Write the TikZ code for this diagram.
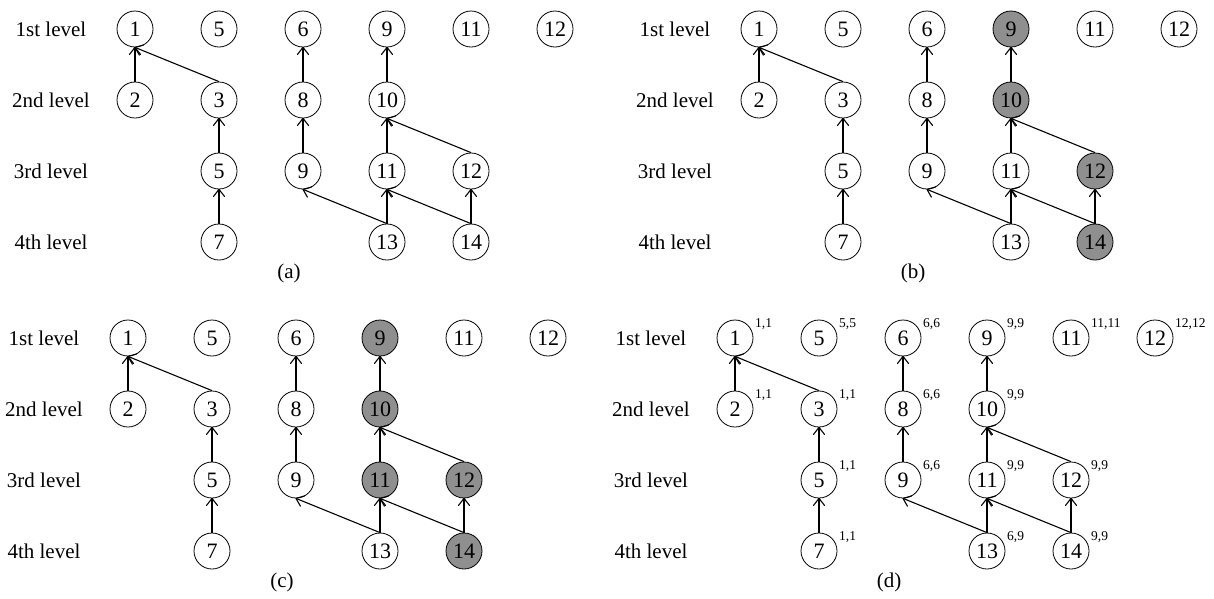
\documentclass[tikz,border=0pt]{standalone}
\usepackage{fontspec}
\setmainfont{Liberation Serif}
\usetikzlibrary{calc}
\definecolor{shade}{gray}{0.56}
\tikzset{
  vx/.style={circle, draw, line width=0.8pt, minimum size=36pt, inner sep=0pt, font=\fontsize{22}{24}\selectfont},
  lvl/.style={font=\fontsize{21}{24}\selectfont},
  captext/.style={font=\fontsize{21}{24}\selectfont},
  ann/.style={anchor=west, inner sep=0pt, font=\fontsize{13.5}{15}\selectfont},
  conn/.style={line width=1.1pt},
  tipline/.style={line width=1.1pt, line join=round, line cap=round},
  f9/.style={}, f10/.style={}, f11b/.style={}, f12b/.style={}, f14/.style={},
}
\newcommand\mkpanel[3]{%
\begin{scope}[shift={(#2)}]
\node[lvl] (#1-l1) at (-84,0) {1st level};
\node[lvl] (#1-l2) at (-84,-71) {2nd level};
\node[lvl] (#1-l3) at (-84,-142) {3rd level};
\node[lvl] (#1-l4) at (-84,-213) {4th level};
\node[vx] (#1-1) at (0,0) {1};
\node[vx] (#1-5) at (84,0) {5};
\node[vx] (#1-6) at (168,0) {6};
\node[vx,f9] (#1-9) at (252,0) {9};
\node[vx] (#1-11) at (336,0) {11};
\node[vx] (#1-12) at (420,0) {12};
\node[vx] (#1-2) at (0,-71) {2};
\node[vx] (#1-3) at (84,-71) {3};
\node[vx] (#1-8) at (168,-71) {8};
\node[vx,f10] (#1-10) at (252,-71) {10};
\node[vx] (#1-5b) at (84,-142) {5};
\node[vx] (#1-9b) at (168,-142) {9};
\node[vx,f11b] (#1-11b) at (252,-142) {11};
\node[vx,f12b] (#1-12b) at (336,-142) {12};
\node[vx] (#1-7) at (84,-213) {7};
\node[vx] (#1-13) at (252,-213) {13};
\node[vx,f14] (#1-14) at (336,-213) {14};
\foreach \s/\t in {2/1,3/1,5b/3,7/5b,8/6,9b/8,10/9,11b/10,12b/10,13/11b,13/9b,14/11b,14/12b}{
  \draw[conn] (#1-\s.north) -- (#1-\t.south);
  \draw[tipline] ($(#1-\t.south)!7pt!(#1-\s.north)!5.5pt!90:(#1-\t.south)$) -- (#1-\t.south) -- ($(#1-\t.south)!7pt!(#1-\s.north)!5.5pt!-90:(#1-\t.south)$);
}
\node[captext] (#1-cap) at (154,-244) {(#3)};
\end{scope}}
\begin{document}
\begin{tikzpicture}[x=1pt,y=1pt]
\useasboundingbox (0,0) rectangle (1214,-598);
\mkpanel{a}{135,-29}{a}
\begin{scope}[f9/.style={fill=shade}, f10/.style={fill=shade}, f12b/.style={fill=shade}, f14/.style={fill=shade}]
\mkpanel{b}{759,-29}{b}
\end{scope}
\begin{scope}[f9/.style={fill=shade}, f10/.style={fill=shade}, f11b/.style={fill=shade}, f12b/.style={fill=shade}, f14/.style={fill=shade}]
\mkpanel{c}{128,-338}{c}
\end{scope}
\mkpanel{d}{735,-338}{d}
\foreach \n/\t in {1/{1,1},5/{5,5},6/{6,6},9/{9,9},11/{11,11},12/{12,12},2/{1,1},3/{1,1},8/{6,6},10/{9,9},5b/{1,1},9b/{6,6},11b/{9,9},12b/{9,9},7/{1,1},13/{6,9},14/{9,9}}
  \node[ann] (d-ann-\n) at ([shift={(20,14)}]d-\n.center) {\t};
\end{tikzpicture}
\end{document}
